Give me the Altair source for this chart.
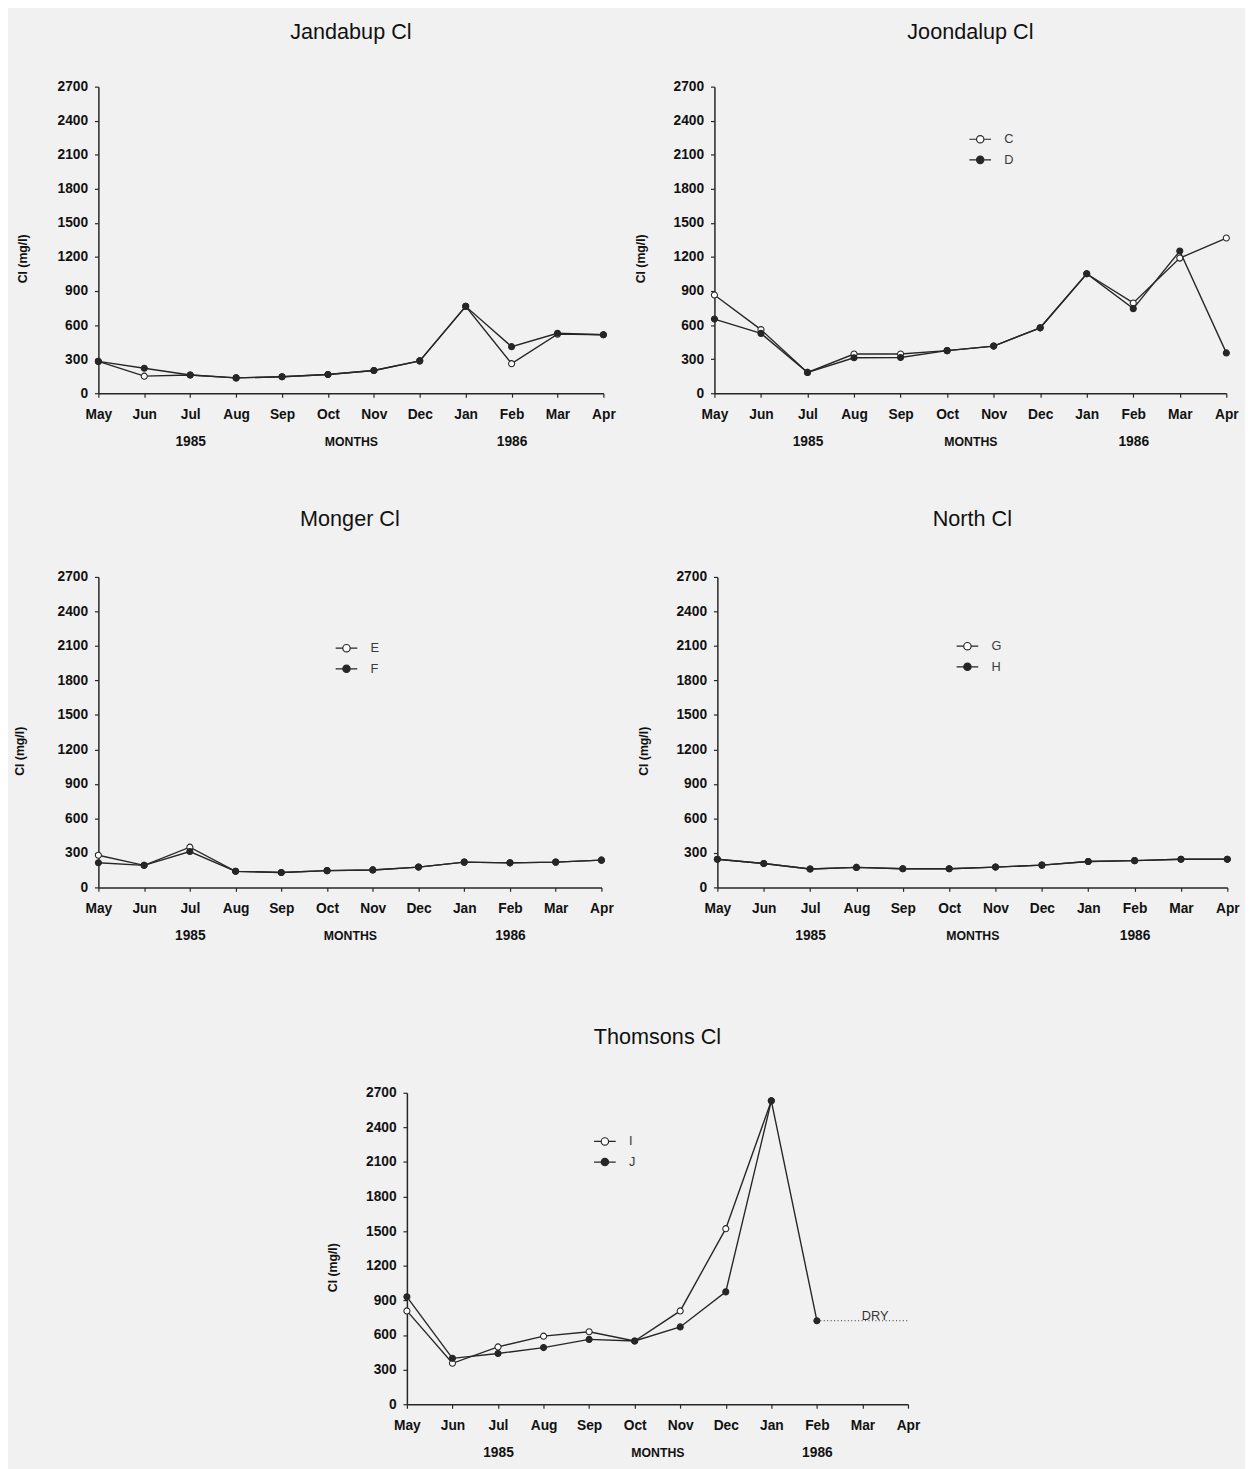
import altair as alt
import pandas as pd

months = ["May", "Jun", "Jul", "Aug", "Sep", "Oct", "Nov", "Dec", "Jan", "Feb", "Mar", "Apr"]
y_ticks = [0, 300, 600, 900, 1200, 1500, 1800, 2100, 2400, 2700]

# Jandabup (no legend shown)
jand_names = ["A", "B"]
jand_open = [280, 150, 160, 135, 145, 165, 200, 285, 765, 260, 520, 515]
jand_filled = [280, 220, 160, 135, 145, 165, 200, 285, 765, 410, 528, 515]

# Joondalup
joon_names = ["C", "D"]
joon_open = [865, 560, 183, 345, 345, 375, 415, 576, 1052, 795, 1190, 1367]
joon_filled = [653, 527, 183, 312, 315, 375, 415, 576, 1052, 745, 1252, 355]

# Monger
mong_names = ["E", "F"]
mong_open = [280, 192, 350, 140, 130, 146, 152, 177, 220, 214, 220, 237]
mong_filled = [215, 192, 312, 140, 130, 146, 152, 177, 220, 214, 220, 237]

# North
north_names = ["G", "H"]
north_open = [245, 208, 160, 174, 162, 162, 177, 194, 225, 233, 245, 245]
north_filled = [245, 208, 160, 174, 162, 162, 177, 194, 225, 233, 245, 245]

# Thomsons
thom_names = ["I", "J"]
thom_open = [809, 355, 497, 590, 628, 548, 809, 1522, 2630, None, None, None]
thom_filled = [931, 398, 440, 491, 562, 548, 670, 974, 2630, 724, None, None]
dry_from, dry_to, dry_level, dry_text = "Feb", "Apr", 724, "DRY"

FONT = "Liberation Sans"
BG = "#f1f1f1"
INK = "#262626"
LEGEND_PATH = ("M-2.2,0L-0.75,0M0.75,0L2.2,0"
               "M-0.75,0A0.75,0.75,0,1,1,0.75,0A0.75,0.75,0,1,1,-0.75,0Z")

label_expr = ("datum.value == 'Jul' ? ['Jul', '1985'] : "
              "datum.value == 'Feb' ? ['Feb', '1986'] : datum.label")


def panel(title, names, v_open, v_filled, width, height, offset, legend_xy=None,
          dry=False, ytitle_pad=26):
    rows = []
    for name, vals in ((names[0], v_open), (names[1], v_filled)):
        for m, v in zip(months, vals):
            if v is not None:
                rows.append({"month": m, "value": v, "series": name})
    df = pd.DataFrame(rows)

    xscale = alt.Scale(domain=months, type="point", padding=0)
    xaxis = alt.Axis(title="MONTHS", labelAngle=0, labelPadding=11,
                     labelExpr=label_expr, labelLineHeight=27,
                     titleY=49, titleBaseline="middle")
    x = alt.X("month:O", scale=xscale, axis=xaxis)
    yscale = alt.Scale(domain=[0, 2700], nice=False)
    yaxis = alt.Axis(values=y_ticks, format="d", title="Cl  (mg/l)", labelPadding=7,
                     titlePadding=ytitle_pad, titleY=height * 0.56)
    y = alt.Y("value:Q", scale=yscale, axis=yaxis)

    base = alt.Chart(df)
    line = base.mark_line(color=INK, strokeWidth=1.4).encode(
        x=x, y=y, detail="series:N")

    if legend_xy is not None:
        legend = alt.Legend(orient="none", legendX=legend_xy[0], legendY=legend_xy[1],
                            title=None, symbolType=LEGEND_PATH, symbolSize=100,
                            symbolStrokeColor=INK, symbolStrokeWidth=1.2,
                            labelFont=FONT, labelFontSize=13, labelColor="#3a3a3a",
                            labelFontWeight="normal", labelOffset=18, rowPadding=7)
    else:
        legend = None

    pts = base.mark_point(filled=True, size=38, stroke=INK, strokeWidth=1.1,
                          opacity=1).encode(
        x=x, y=y,
        fill=alt.Fill("series:N", scale=alt.Scale(domain=names, range=["white", INK]),
                      legend=legend))

    layers = [line, pts]
    if dry:
        ddf = pd.DataFrame({"month": [dry_from], "month2": [dry_to],
                            "value": [dry_level], "label_month": ["Mar"],
                            "text": [dry_text]})
        rule = alt.Chart(ddf).mark_rule(color="#555", strokeWidth=1.2,
                                        strokeDash=[1, 2.5]).encode(
            x=x, x2="month2:O", y=y)
        txt = alt.Chart(ddf).mark_text(font=FONT, fontSize=13, color="#333",
                                       dx=13, dy=-5, baseline="middle").encode(
            x=alt.X("label_month:O", scale=xscale, axis=xaxis),
            y=y, text="text:N")
        layers = [rule, txt, line, pts]

    return alt.layer(*layers).properties(
        width=width, height=height,
        title=alt.TitleParams(text=title, fontSize=22, font=FONT, fontWeight="normal",
                              offset=offset, anchor="middle", color="#111"))


jand = panel("Jandabup Cl", jand_names, jand_open, jand_filled, 514, 312, offset=37,
             ytitle_pad=28)
joon = panel("Joondalup Cl", joon_names, joon_open, joon_filled, 521, 312, offset=37,
             legend_xy=(264, 47))
mong = panel("Monger Cl", mong_names, mong_open, mong_filled, 512, 316, offset=40,
             legend_xy=(246, 66), ytitle_pad=31)
north = panel("North Cl", north_names, north_open, north_filled, 519, 316, offset=40,
              legend_xy=(248, 64))
thom = panel("Thomsons Cl", thom_names, thom_open, thom_filled, 510, 317, offset=38,
             legend_xy=(195, 43), dry=True)

spacer = alt.Chart(pd.DataFrame({"a": [0]})).mark_point(opacity=0).encode(
    x=alt.X("a:Q", axis=None), y=alt.Y("a:Q", axis=None)).properties(width=222, height=10)


def indep(c):
    return c.resolve_scale(fill="independent").resolve_legend(fill="independent")


row1 = indep(alt.hconcat(jand, joon, spacing=18))
row2 = indep(alt.hconcat(mong, north, spacing=23))
row3 = indep(alt.hconcat(spacer, thom, spacing=10))

top = indep(alt.vconcat(row1, row2, spacing=61))
chart = indep(alt.vconcat(top, row3, spacing=85)).configure(
    background=BG, padding={"left": 5, "top": 0, "right": 5, "bottom": 5}
).configure_view(stroke=None).configure_axis(
    domainColor=INK, domainWidth=1.5, tickColor=INK, tickWidth=1.2, tickSize=4,
    labelFont=FONT, labelFontSize=14, labelFontWeight="bold", labelColor="#111",
    grid=False, titleFont=FONT, titleFontWeight="bold", titleFontSize=12.5,
    titleColor="#111")

chart.save("out.html", embed_options={"renderer": "svg", "actions": False})
